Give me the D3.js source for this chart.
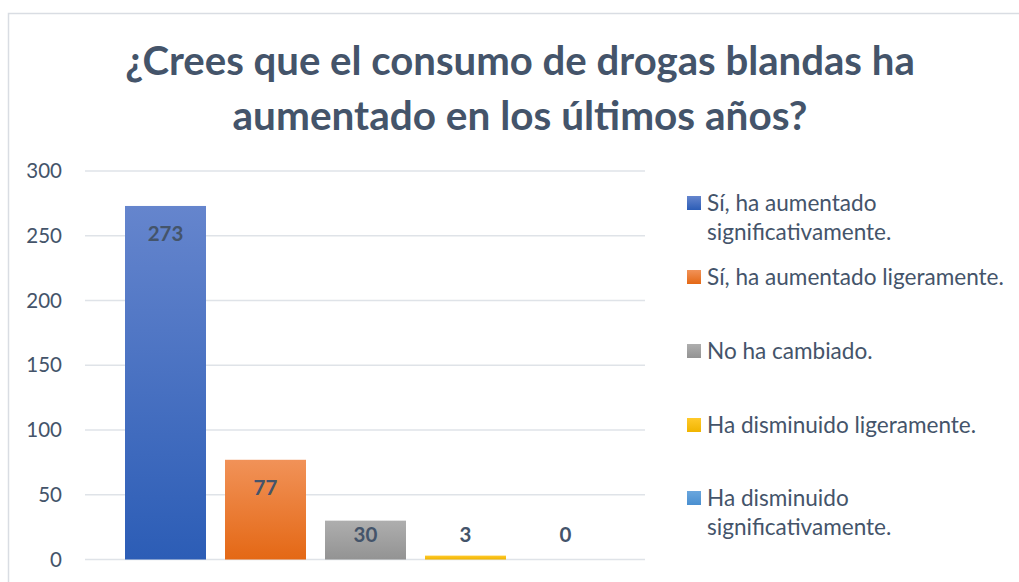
<!DOCTYPE html>
<html><head><meta charset="utf-8">
<script src="https://cdn.jsdelivr.net/npm/d3@7"></script>
<style>body{margin:0;background:#fff;}svg{display:block;font-family:Lato,"Open Sans",sans-serif;}</style>
</head><body>
<svg id="c" width="1019" height="582"></svg>
<script>
const titleLines = ["¿Crees que el consumo de drogas blandas ha", "aumentado en los últimos años?"];
const categories = ["Sí, ha aumentado significativamente.", "Sí, ha aumentado ligeramente.", "No ha cambiado.", "Ha disminuido ligeramente.", "Ha disminuido significativamente."];
const values = [273, 77, 30, 3, 0];
const legendLines = [["Sí, ha aumentado", "significativamente."], ["Sí, ha aumentado ligeramente."], ["No ha cambiado."], ["Ha disminuido ligeramente."], ["Ha disminuido", "significativamente."]];
const yTicks = [0, 50, 100, 150, 200, 250, 300];
const colorsTop = ["#6585cd", "#f19258", "#aeaeae", "#ffc92a", "#6aa6dd"];
const colorsBot = ["#2c5db6", "#e46815", "#939393", "#f0b400", "#4a8fd0"];

const svg = d3.select("#c");
const textCol = "#44546a";

// border
svg.append("path").attr("d", "M8.5,582 V13.5 H1019").attr("fill", "none").attr("stroke", "#d9dde3").attr("stroke-width", 1.5);

function fit(sel, target) {
  const w = sel.node().getComputedTextLength();
  const fs = parseFloat(sel.attr("font-size"));
  const nf = fs * target / w;
  sel.attr("font-size", nf);
  return nf;
}

// title
const tl = [[520, 75, 790], [520, 130, 575]];
titleLines.forEach((t, i) => {
  const s = svg.append("text").attr("x", tl[i][0]).attr("y", tl[i][1]).attr("text-anchor", "middle")
    .attr("font-weight", "bold").attr("font-size", 36).attr("fill", textCol).text(t);
  fit(s, tl[i][2]);
});

const y = d3.scaleLinear().domain([0, 300]).range([559.5, 171]);
const x = d3.scaleBand().domain(categories).range([115.5, 615.5]).paddingInner(0.19).paddingOuter(0.095);

// gridlines
svg.append("g").selectAll("line").data(yTicks).join("line")
  .attr("x1", 85).attr("x2", 645).attr("y1", d => y(d)).attr("y2", d => y(d))
  .attr("stroke", "#dfe3e8").attr("stroke-width", 1.5);

// y axis labels
const yAxis = d3.axisLeft(y).tickValues(yTicks).tickSize(0).tickPadding(0);
const ga = svg.append("g").attr("transform", "translate(62,0)").call(yAxis);
ga.select(".domain").remove();
ga.selectAll("text").attr("font-family", "Lato,'Open Sans',sans-serif").attr("font-size", 20.5).attr("fill", textCol);

// gradients
const defs = svg.append("defs");
categories.forEach((c, i) => {
  const g = defs.append("linearGradient").attr("id", "g" + i).attr("x1", 0).attr("y1", 0).attr("x2", 0).attr("y2", 1);
  g.append("stop").attr("offset", "0%").attr("stop-color", colorsTop[i]);
  g.append("stop").attr("offset", "100%").attr("stop-color", colorsBot[i]);
});

// bars
svg.append("g").selectAll("rect").data(values).join("rect")
  .attr("x", (d, i) => x(categories[i])).attr("width", x.bandwidth())
  .attr("y", d => y(d)).attr("height", d => y(0) - y(d))
  .attr("fill", (d, i) => `url(#g${i})`);

// labels
svg.append("g").selectAll("text").data(values).join("text")
  .attr("x", (d, i) => x(categories[i]) + x.bandwidth() / 2)
  .attr("y", d => Math.min(y(d) + 28, y(0) - 25))
  .attr("dy", "0.35em")
  .attr("text-anchor", "middle").attr("font-weight", "bold").attr("font-size", 20.5).attr("fill", textCol)
  .text(d => d);

// legend
const probe = svg.append("text").attr("font-size", 19).text(legendLines[1][0]);
const legFs = fit(probe, 297);
probe.remove();
const legY = [203, 277, 351, 425, 498];
legendLines.forEach((lines, i) => {
  svg.append("rect").attr("x", 687).attr("y", legY[i] - 7).attr("width", 14).attr("height", 14).attr("fill", `url(#g${i})`);
  lines.forEach((t, j) => {
    svg.append("text").attr("x", 707).attr("y", legY[i] + j * 29.5).attr("dy", "0.35em")
      .attr("font-size", legFs).attr("fill", textCol).text(t);
  });
});
</script>
</body></html>
